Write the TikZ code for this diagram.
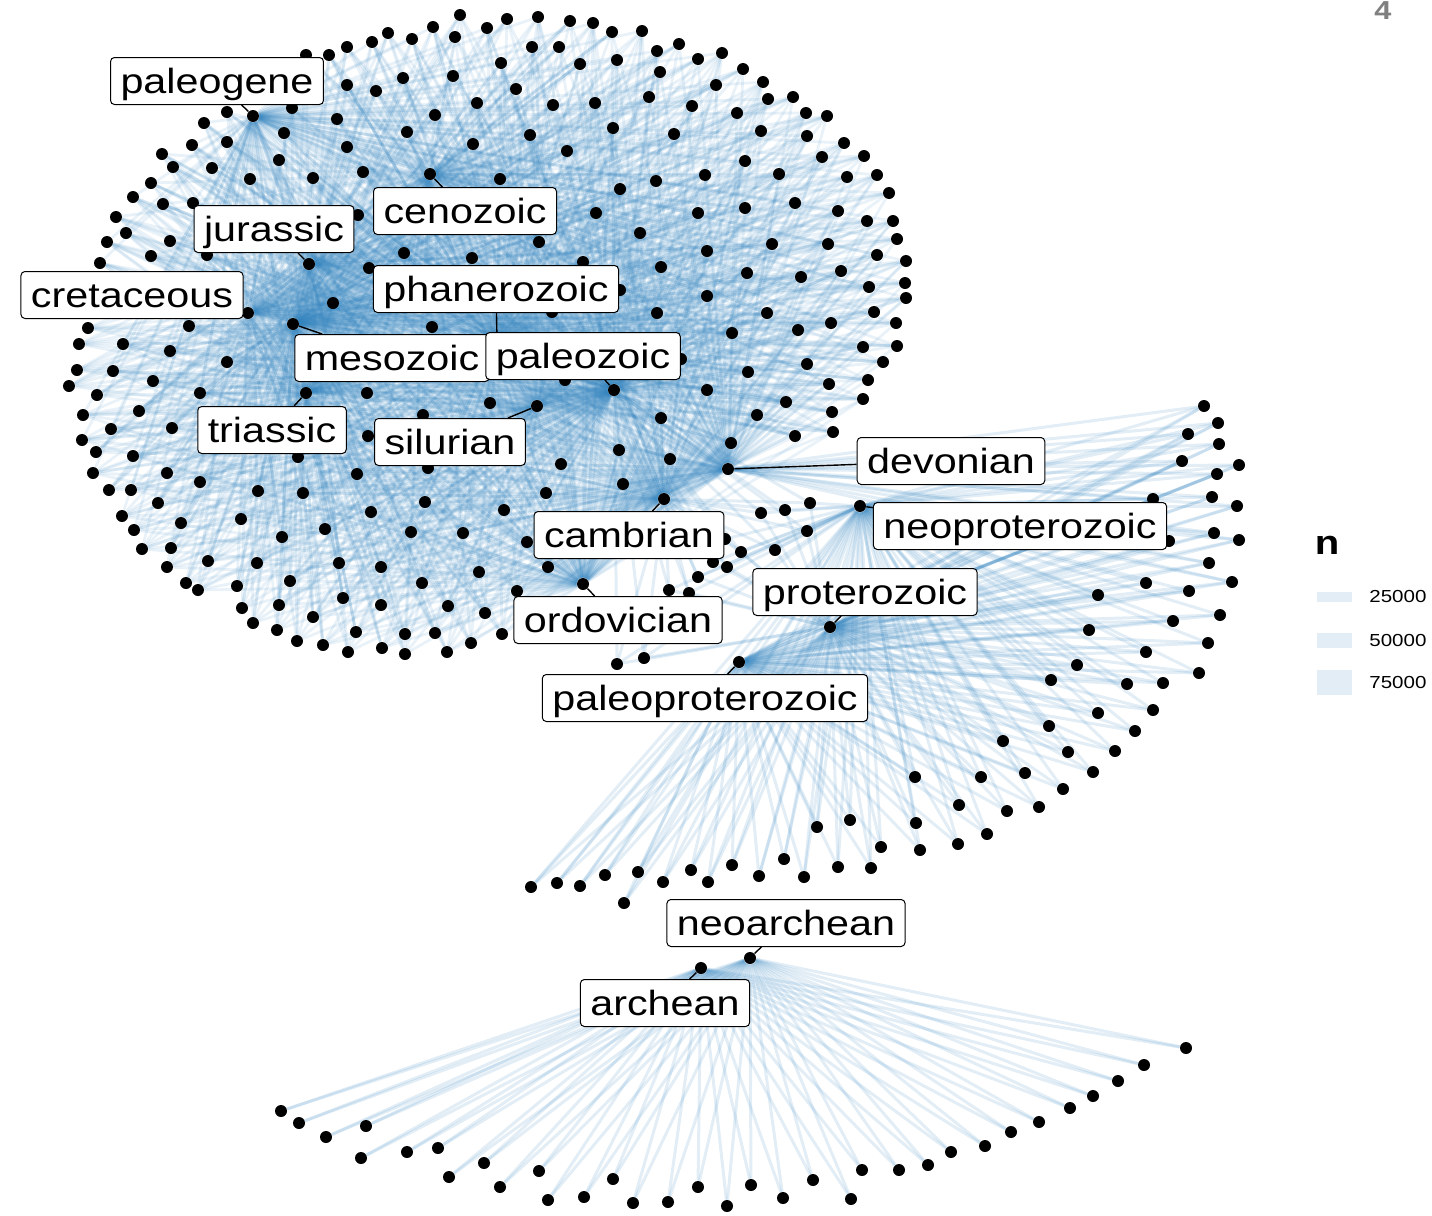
\documentclass[tikz,border=0pt]{standalone}
\usepackage{fontspec}
\setmainfont{Liberation Sans}[FakeStretch=1.18]
\pgfdeclarelayer{edges}
\pgfdeclarelayer{leads}
\pgfsetlayers{edges,leads,main}
\definecolor{edgeblue}{RGB}{49,130,189}
\definecolor{numgray}{RGB}{128,128,128}
\begin{document}
\begin{tikzpicture}[x=0.5pt,y=-0.5pt,
	dot/.style={circle,fill=black,inner sep=0pt,minimum size=6pt},
	edge/.style={edgeblue,opacity=0.14,line width=1.5pt},
	densedge/.style={edgeblue,opacity=0.105,line width=1.4pt},
	lbl/.style={draw=black,line width=0.5pt,fill=white,rounded corners=2pt,inner xsep=5pt,inner ysep=0pt,text height=18pt,text depth=5.5pt,font=\fontsize{17.5}{20}\selectfont},
	lead/.style={black,line width=0.7pt},
	key/.style={fill=edgeblue,fill opacity=0.14,inner sep=0pt,minimum width=17.5pt}]
	\useasboundingbox (0,0) rectangle (1432,1216);
	% hubs
	\node[dot] (paleogene) at (253,116) {};
	\node[dot] (cenozoic) at (430,174) {};
	\node[dot] (jurassic) at (309,264) {};
	\node[dot] (cretaceous) at (248,313) {};
	\node[dot] (mesozoic) at (293,324) {};
	\node[dot] (phanerozoic) at (497,340) {};
	\node[dot] (paleozoic) at (614,390) {};
	\node[dot] (triassic) at (306,393) {};
	\node[dot] (silurian) at (537,406) {};
	\node[dot] (devonian) at (728,469) {};
	\node[dot] (cambrian) at (664,499) {};
	\node[dot] (ordovician) at (583,584) {};
	\node[dot] (neoproterozoic) at (860,506) {};
	\node[dot] (proterozoic) at (830,627) {};
	\node[dot] (paleoproterozoic) at (739,662) {};
	\node[dot] (neoarchean) at (750,958) {};
	\node[dot] (archean) at (701,968) {};
	% leaves, top cluster
	\foreach \x/\y [count=\i] in {460/15, 433/27, 455/37, 412/39, 388/33, 372/42, 347/47, 329/55, 306/55, 347/85, 376/91, 403/78, 453/76, 477/103, 435/115, 407/132, 473/144, 337/119, 347/147, 363/172, 292/108, 284/133, 279/160, 313/178, 227/112, 204/123, 227/142, 192/145, 162/154, 173/167, 212/168, 250/179, 151/183, 133/197, 163/204, 193/203, 116/217, 126/233, 170/241, 107/242, 151/256, 207/255, 358/215, 100/263, 369/268, 404/253, 472/258, 333/303, 88/328, 189/326, 432/327,
		487/28, 507/19, 538/17, 570/21, 593/23, 612/32, 642/31, 679/44, 657/51, 698/59, 722/53, 743/69, 763/82, 793/97, 806/113, 827/116, 844/143, 864/156, 877/175, 889/193, 893/221, 897/239, 906/261, 905/283, 906/298, 896/323, 532/47, 559/47, 501/63, 580/64, 617/60, 660/72, 516/89, 553/105, 595/103, 649/97, 692/106, 716/85, 768/99, 737/113, 807/136, 761/131, 613/128, 674/134, 530/135, 567/151, 500/179, 656/181, 620/189, 705/175, 745/161, 779/174, 822/157, 847/177, 795/203, 745/208, 698/213, 596/213, 838/211, 867/221, 640/233, 772/244, 707/251, 828/244, 877/255, 661/267, 747/273, 801/277, 841/271, 869/287, 874/312, 831/323, 767/313, 707/296, 657/313, 732/333, 798/330, 539/242, 583/262, 620/290, 552/312,
		79/344, 123/344, 170/351, 227/362, 77/370, 113/371, 69/386, 153/381, 97/395, 200/393, 367/393, 83/415, 139/411, 111/429, 172/428, 368/436, 423/415, 82/440, 96/452, 133/456, 298/457, 93/473, 167/473, 200/482, 357/474, 428/468, 109/490, 131/490, 258/491, 303/493, 158/503, 425/502, 371/512, 122/516, 181/523, 241/519, 325/529, 411/532, 463/533, 134/530, 282/537, 142/549, 171/548, 167/567, 208/561, 257/563, 339/563, 381/567, 186/583, 198/590, 237/586, 290/581, 422/583, 343/598, 381/605, 448/606, 242/608, 279/605, 253/623, 313/617, 277/630, 356/632, 405/634, 435/633, 297/641, 323/645, 348/652, 382/648, 405/654, 447/652, 471/643, 479/572,
		897/346, 863/347, 883/362, 681/359, 748/372, 807/364, 868/380, 829/384, 707/390, 565/380, 786/402, 863/399, 832/412, 757/415, 490/403, 661/418, 795/436, 833/432, 731/443, 619/450, 670/459, 561/464, 623/484, 546/493, 504/510, 527/542, 548/567, 517/591, 485/613, 502/634}
		{\node[dot] (a\i) at (\x,\y) {}; \xdef\na{\i}}
	% between the clusters
	\foreach \x/\y [count=\i] in {761/513, 785/510, 810/503, 807/531, 725/539, 741/552, 775/550, 713/562, 727/567, 698/577, 669/590, 689/593, 617/664, 644/658}
		{\node[dot] (t\i) at (\x,\y) {}; \xdef\nt{\i}}
	% proterozoic arc
	\foreach \x/\y [count=\i] in {1204/406, 1218/423, 1188/434, 1219/444, 1182/461, 1239/465, 1217/474, 1212/497, 1237/506, 1153/499, 1169/541, 1214/533, 1239/540, 1209/563, 1232/582,
		1146/583, 1189/591, 1098/595, 1173/621, 1220/615, 1089/630, 1146/652, 1208/643, 1077/665, 1199/673, 1051/680, 1127/684, 1163/683, 1098/713, 1153/710, 1135/731, 1049/726, 1068/752, 1115/751, 1003/741, 915/777, 981/777, 1025/773, 1093/772, 1063/789, 959/805, 1007/811, 1039/807, 916/823, 987/834, 920/850, 958/844, 850/820, 817/827, 881/847, 784/859, 838/867, 871/868, 804/877, 732/865, 759/876, 691/870, 708/882, 638/872, 663/882, 605/875, 580/886, 557/883, 531/887, 624/903}
		{\node[dot] (b\i) at (\x,\y) {}; \xdef\nb{\i}}
	% archean fan
	\foreach \x/\y [count=\i] in {281/1111, 299/1123, 326/1137, 366/1126, 361/1158, 407/1152, 438/1148, 449/1177, 484/1163, 500/1187, 539/1171, 548/1200, 584/1197, 613/1179, 633/1203, 668/1202, 698/1187, 727/1206, 751/1185, 783/1198, 813/1180, 851/1199, 862/1170, 899/1170, 928/1165, 951/1152, 985/1146, 1011/1132, 1039/1122, 1070/1108, 1093/1096, 1118/1081, 1144/1065, 1186/1048}
		{\node[dot] (c\i) at (\x,\y) {}; \xdef\nc{\i}}
	\begin{pgfonlayer}{edges}
	\foreach \i in {1,...,\na}{
		\draw[densedge] (a\i) -- (phanerozoic);
		\draw[densedge] (a\i) -- (paleozoic);
		\draw[densedge] (a\i) -- (mesozoic);
		\ifodd\i\relax
			\draw[densedge] (a\i) -- (cenozoic);
			\draw[densedge] (a\i) -- (cretaceous);
			\draw[densedge] (a\i) -- (jurassic);
			\draw[densedge] (a\i) -- (devonian);
		\else
			\draw[densedge] (a\i) -- (triassic);
			\draw[densedge] (a\i) -- (silurian);
			\draw[densedge] (a\i) -- (cambrian);
			\draw[densedge] (a\i) -- (ordovician);
			\draw[densedge] (a\i) -- (paleogene);
		\fi
	}
	\foreach \i in {1,...,\nt}{
		\draw[edge] (t\i) -- (paleozoic);
		\draw[edge] (t\i) -- (cambrian);
		\draw[edge] (t\i) -- (proterozoic);
		\draw[edge] (t\i) -- (neoproterozoic);
	}
	\foreach \i in {1,...,\nb}{
		\draw[edge] (b\i) -- (proterozoic);
		\draw[edge] (b\i) -- (paleoproterozoic);
		\draw[edge] (b\i) -- (neoproterozoic);
		\ifnum\i<16 \draw[edge] (b\i) -- (devonian); \fi
	}
	\foreach \i in {1,...,\nc}{
		\draw[edge] (c\i) -- (archean);
		\draw[edge] (c\i) -- (neoarchean);
	}
	\end{pgfonlayer}
	% labels
	\node[lbl] (l-paleogene) at (217,81) {paleogene};
	\node[lbl] (l-jurassic) at (274,229) {jurassic};
	\node[lbl] (l-cenozoic) at (465,211) {cenozoic};
	\node[lbl] (l-cretaceous) at (132,295) {cretaceous};
	\node[lbl] (l-phanerozoic) at (496,289) {phanerozoic};
	\node[lbl] (l-mesozoic) at (392,358) {mesozoic};
	\node[lbl] (l-paleozoic) at (583,356) {paleozoic};
	\node[lbl] (l-triassic) at (272,430) {triassic};
	\node[lbl] (l-silurian) at (450,442) {silurian};
	\node[lbl] (l-devonian) at (951,461) {devonian};
	\node[lbl] (l-neoproterozoic) at (1020,526) {neoproterozoic};
	\node[lbl] (l-cambrian) at (629,535) {cambrian};
	\node[lbl] (l-proterozoic) at (865,592) {proterozoic};
	\node[lbl] (l-ordovician) at (618,620) {ordovician};
	\node[lbl] (l-paleoproterozoic) at (705,698) {paleoproterozoic};
	\node[lbl] (l-neoarchean) at (786,923) {neoarchean};
	\node[lbl] (l-archean) at (665,1003) {archean};
	\begin{pgfonlayer}{leads}
	\foreach \p in {paleogene,jurassic,cenozoic,cretaceous,phanerozoic,mesozoic,paleozoic,triassic,silurian,devonian,neoproterozoic,cambrian,proterozoic,ordovician,paleoproterozoic,neoarchean,archean}
		\draw[lead] (\p) -- (l-\p);
	\end{pgfonlayer}
	% legend
	\node[font=\bfseries\fontsize{17}{20}\selectfont] (n-title) at (1327,545) {n};
	\node[key,minimum height=5pt] (key1) at (1334.5,597) {};
	\node[key,minimum height=7.5pt] (key2) at (1334.5,640.5) {};
	\node[key,minimum height=12.5pt] (key3) at (1334.5,682.5) {};
	\node[anchor=west,inner sep=0pt,font=\fontsize{8.7}{10}\selectfont] (n1) at (1369,597) {25000};
	\node[anchor=west,inner sep=0pt,font=\fontsize{8.7}{10}\selectfont] (n2) at (1369,641) {50000};
	\node[anchor=west,inner sep=0pt,font=\fontsize{8.7}{10}\selectfont] (n3) at (1369,683) {75000};
	\node[numgray,anchor=base,inner sep=0pt,font=\bfseries\fontsize{13}{15}\selectfont] (pagenum) at (1383,19) {4};
\end{tikzpicture}
\end{document}
